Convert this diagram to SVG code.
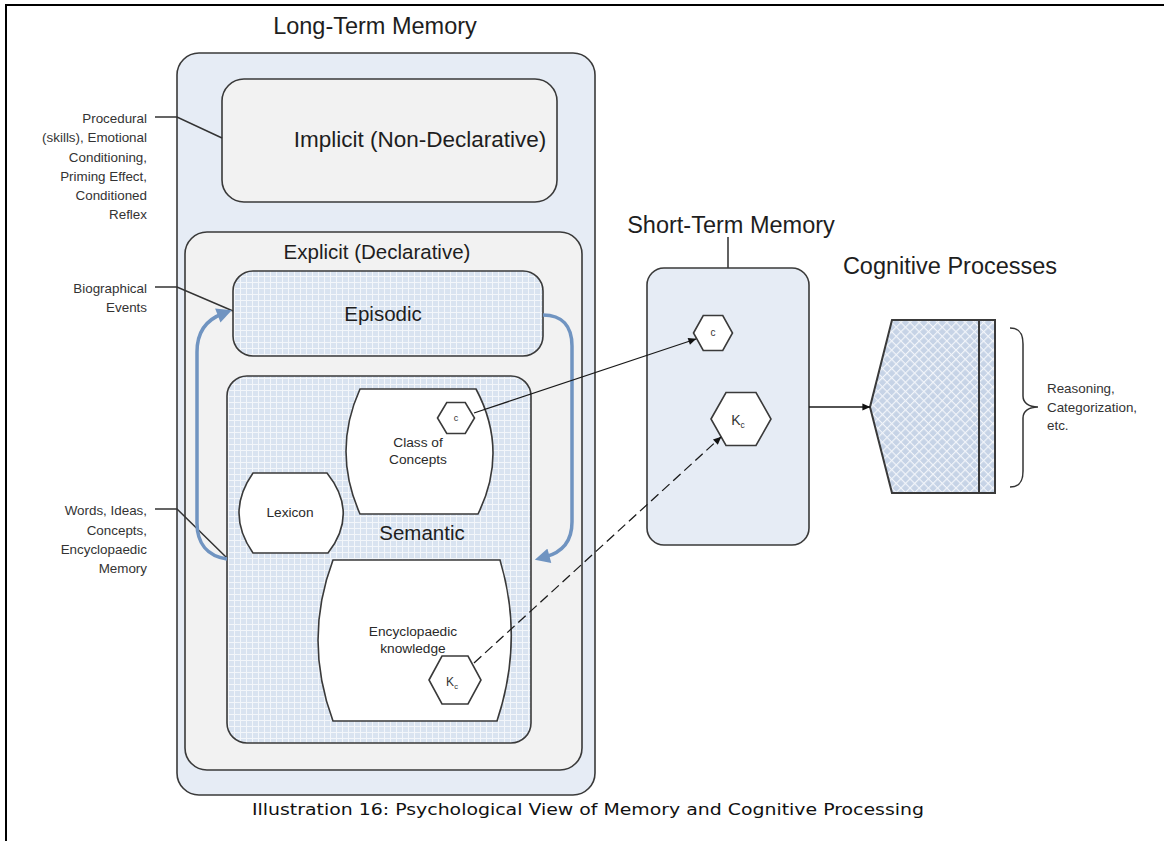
<svg xmlns="http://www.w3.org/2000/svg" width="1164" height="841" viewBox="0 0 1164 841">
  <style>
    text { font-family: "Liberation Sans", Arial, sans-serif; fill: #1e1e1e; }
    .title { font-size: 23.5px; text-anchor: middle; }
    .head { font-size: 20.5px; text-anchor: middle; }
    .inner { font-size: 13.7px; text-anchor: middle; fill: #2a2a2a; }
    .note { font-size: 13.4px; text-anchor: end; fill: #333; }
    .side { font-size: 13.4px; text-anchor: start; fill: #333; }
    .hexlabel { font-size: 9px; text-anchor: middle; fill: #333; }
    .box { stroke: #3a3a3a; stroke-width: 1.6; }
    .blue { fill: #e6ecf5; }
    .grey { fill: #f2f2f2; }
    .grid { fill: url(#grid); }
    .white { fill: #ffffff; }
    .lead { fill: none; stroke: #333; stroke-width: 1.5; }
    .link { fill: none; stroke: #1a1a1a; stroke-width: 1.3; }
    .dash { stroke-dasharray: 10 5; }
    .flow { fill: none; stroke: #7094c1; stroke-width: 3.5; }
    .caption { font-family: "DejaVu Sans", Verdana, sans-serif; font-size: 15.5px; text-anchor: middle; fill: #111; }
  </style>
  <defs>
    <pattern id="grid" width="6" height="6" patternUnits="userSpaceOnUse">
      <rect width="6" height="6" fill="#d9e3f0"/>
      <path d="M0 0.5H6M0.5 0V6" stroke="#f3f6fa" stroke-width="1"/>
    </pattern>
    <pattern id="hatch" width="6.5" height="6.5" patternUnits="userSpaceOnUse" patternTransform="rotate(45)">
      <rect width="6.5" height="6.5" fill="#c6d3e6"/>
      <path d="M0 0.6H6.5M0.6 0V6.5" stroke="#f2f5fa" stroke-width="1.2"/>
    </pattern>
    <marker id="tip" viewBox="0 0 10 10" refX="9.5" refY="5" markerWidth="9" markerHeight="8" markerUnits="userSpaceOnUse" orient="auto">
      <path d="M0,0.5 L10,5 L0,9.5 Z" fill="#111"/>
    </marker>
    <marker id="bluetip" viewBox="0 0 10 10" refX="3" refY="5" markerWidth="17" markerHeight="15" markerUnits="userSpaceOnUse" orient="auto">
      <path d="M0,0 L10,5 L0,10 Z" fill="#7094c1"/>
    </marker>
  </defs>

  <rect width="1164" height="841" fill="#ffffff"/>
  <!-- page frame -->
  <path d="M6,841 V5 H1164" fill="none" stroke="#000" stroke-width="2"/>

  <!-- long-term memory -->
  <g id="ltm">
    <text class="title" x="375" y="34">Long-Term Memory</text>
    <rect class="box blue" x="177" y="53" width="418" height="742" rx="22"/>
  </g>

  <g id="implicit">
    <rect class="box grey" x="222" y="79" width="335" height="123" rx="22"/>
    <text class="title" x="420" y="147" style="font-size:22.5px">Implicit (Non-Declarative)</text>
  </g>

  <g id="explicit">
    <rect class="box grey" x="185" y="232" width="397" height="538" rx="22"/>
    <text class="head" x="377" y="259">Explicit (Declarative)</text>
  </g>

  <g id="episodic">
    <rect class="box grid" x="233" y="271" width="310" height="85" rx="20"/>
    <text class="head" x="383" y="321">Episodic</text>
  </g>

  <g id="semantic">
    <rect class="box grid" x="227" y="376" width="304" height="367" rx="20"/>
    <text class="head" x="422" y="540">Semantic</text>
  </g>

  <g id="class-of-concepts">
    <path class="box white" d="M360,389 L476,389 Q509,451 478,514 L360,514 Q332,451 360,389 Z"/>
    <text class="inner" x="418" y="447">Class of</text>
    <text class="inner" x="418" y="464">Concepts</text>
  </g>

  <g id="concept-c">
    <polygon class="box white" points="437.5,418 446.75,402.5 465.25,402.5 474.5,418 465.25,433.5 446.75,433.5"/>
    <text class="hexlabel" x="456" y="421">c</text>
  </g>

  <g id="lexicon">
    <path class="box white" d="M253,473 L327,473 Q359,513 328,553 L253,553 Q225,513 253,473 Z"/>
    <text class="inner" x="290" y="517">Lexicon</text>
  </g>

  <g id="encyclopaedic">
    <path class="box white" d="M333,560 L500,560 Q524,640 497,721 L333,721 Q303,640 333,560 Z"/>
    <text class="inner" x="413" y="636">Encyclopaedic</text>
    <text class="inner" x="413" y="653">knowledge</text>
  </g>

  <g id="knowledge-kc">
    <polygon class="box white" points="429,680 442,656 468,656 481,680 468,704 442,704"/>
    <text x="452" y="686" style="font-size:12px;text-anchor:middle;fill:#333">K<tspan style="font-size:7.5px" dy="2.5">c</tspan></text>
  </g>

  <!-- short-term memory -->
  <g id="stm">
    <text class="title" x="731" y="233">Short-Term Memory</text>
    <line x1="728" y1="237" x2="728" y2="268" stroke="#3a3a3a" stroke-width="1.6"/>
    <rect class="box blue" x="647" y="268" width="162" height="277" rx="17"/>
  </g>

  <g id="stm-c">
    <polygon class="box white" points="693.5,333 703.25,315.5 722.75,315.5 732.5,333 722.75,350.5 703.25,350.5"/>
    <text class="hexlabel" x="713" y="336" style="font-size:10px">c</text>
  </g>

  <g id="stm-kc">
    <polygon class="box white" points="711,419 726,392.5 756,392.5 771,419 756,445.5 726,445.5"/>
    <text x="738" y="425" style="font-size:14px;text-anchor:middle;fill:#333">K<tspan style="font-size:8.5px" dy="3">c</tspan></text>
  </g>

  <!-- cognitive processes -->
  <g id="cognitive">
    <text class="title" x="950" y="274">Cognitive Processes</text>
    <polygon points="870,407 892,320 995,320 995,493 892,493" fill="url(#hatch)" stroke="#3a3a3a" stroke-width="2"/>
    <line x1="979" y1="320" x2="979" y2="493" stroke="#3a3a3a" stroke-width="2"/>
  </g>

  <g id="cognitive-note">
    <path class="lead" d="M1010,328 C1020,328 1023,334 1023,344 L1023,396 C1023,403 1029,407 1038,407 C1029,407 1023,411 1023,418 L1023,471 C1023,481 1020,487 1010,487"/>
    <text class="side" x="1047" y="393">Reasoning,</text>
    <text class="side" x="1047" y="412">Categorization,</text>
    <text class="side" x="1047" y="430">etc.</text>
  </g>

  <!-- annotations on the left -->
  <g id="note-implicit">
    <text class="note" x="147" y="123">Procedural</text>
    <text class="note" x="147" y="142">(skills), Emotional</text>
    <text class="note" x="147" y="162">Conditioning,</text>
    <text class="note" x="147" y="181">Priming Effect,</text>
    <text class="note" x="147" y="200">Conditioned</text>
    <text class="note" x="147" y="219">Reflex</text>
  </g>

  <g id="note-episodic">
    <text class="note" x="147" y="293">Biographical</text>
    <text class="note" x="147" y="312">Events</text>
  </g>

  <g id="note-semantic">
    <text class="note" x="147" y="515">Words, Ideas,</text>
    <text class="note" x="147" y="535">Concepts,</text>
    <text class="note" x="147" y="554">Encyclopaedic</text>
    <text class="note" x="147" y="573">Memory</text>
  </g>

  <!-- connectors -->
  <g id="connectors">
    <path class="lead" d="M155,117 H177 L222,138"/>
    <path class="lead" d="M155,287 H177 L233,311"/>
    <path class="lead" d="M155,509 H177 L227,558"/>

    <path class="flow" d="M227,559 C207,556 197,543 197,523 L197,352 C197,332 206,320 222,314" marker-end="url(#bluetip)"/>
    <path class="flow" d="M543,315 C562,315 572,326 572,346 L572,522 C572,543 560,553 545,557" marker-end="url(#bluetip)"/>

    <path class="link" d="M474,413 L696,339" marker-end="url(#tip)"/>
    <path class="link dash" d="M474,663 L721,437" marker-end="url(#tip)"/>
    <path class="link" d="M809,407 L870,407" marker-end="url(#tip)"/>
  </g>

  <text class="caption" x="588" y="815" textLength="672" lengthAdjust="spacingAndGlyphs">Illustration 16: Psychological View of Memory and Cognitive Processing</text>
</svg>
